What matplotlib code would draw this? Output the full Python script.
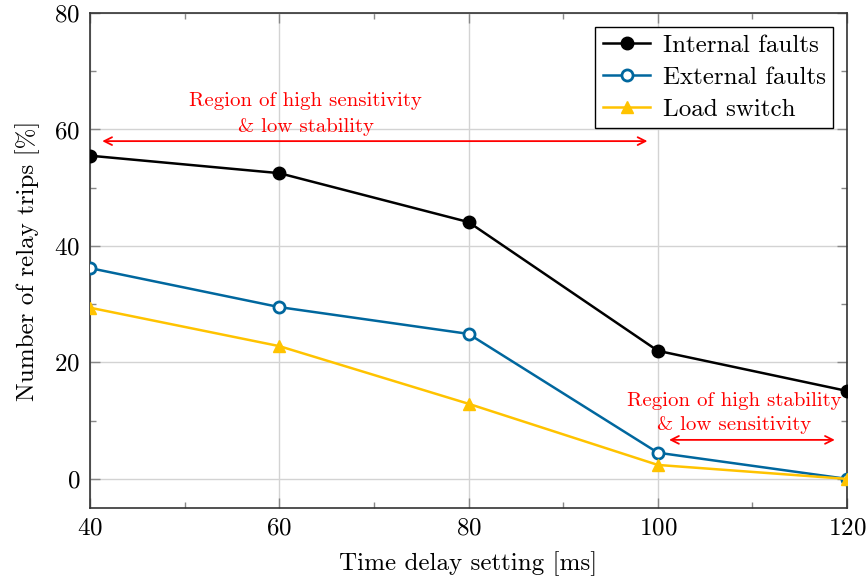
import matplotlib
matplotlib.use('Agg')
import matplotlib.pyplot as plt
from matplotlib.ticker import MultipleLocator

# 字体：Computer Modern 风格
plt.rcParams['font.family'] = ['cmr10', 'DejaVu Serif']
plt.rcParams['mathtext.fontset'] = 'cm'
plt.rcParams['axes.formatter.use_mathtext'] = True

# 数据
delay = [40, 60, 80, 100, 120]
internal = [55.5, 52.5, 44.1, 22.0, 15.1]
external = [36.2, 29.5, 24.9, 4.5, 0.0]
load_switch = [29.4, 22.8, 12.9, 2.4, 0.0]

c_black = 'black'
c_blue = '#00679E'
c_yellow = '#FFC300'

fig = plt.figure(figsize=(8.67, 5.83), dpi=100)
ax = fig.add_axes([0.1038, 0.1286, 0.8732, 0.8491])

ax.plot(delay, internal, color=c_black, lw=1.8, marker='o', ms=9,
        label='Internal faults', zorder=4)
ax.plot(delay, external, color=c_blue, lw=1.8, marker='o', ms=8,
        mfc='white', mec=c_blue, mew=2.0, label='External faults', zorder=3)
ax.plot(delay, load_switch, color=c_yellow, lw=1.8, marker='^', ms=9,
        label='Load switch', zorder=3)

# 区域标注
ax.annotate('', xy=(41, 58), xytext=(99.2, 58),
            arrowprops=dict(arrowstyle='<->', color='red', lw=1.3,
                            mutation_scale=14))
ax.text(62.8, 62.6, 'Region of high sensitivity\n& low stability',
        color='red', fontsize=15, ha='center', va='center', linespacing=1.55)
ax.annotate('', xy=(100.9, 6.7), xytext=(119.0, 6.7),
            arrowprops=dict(arrowstyle='<->', color='red', lw=1.3,
                            mutation_scale=14))
ax.text(108.1, 11.3, 'Region of high stability\n& low sensitivity',
        color='red', fontsize=15, ha='center', va='center', linespacing=1.4)

ax.set_xlim(40, 120)
ax.set_ylim(-5, 80)
ax.xaxis.set_major_locator(MultipleLocator(20))
ax.xaxis.set_minor_locator(MultipleLocator(10))
ax.yaxis.set_major_locator(MultipleLocator(20))
ax.yaxis.set_minor_locator(MultipleLocator(10))
ax.tick_params(which='both', direction='in', top=True, right=True,
               color='#888888', labelsize=18)
ax.tick_params(which='major', length=7, width=1, pad=7)
ax.tick_params(which='minor', length=4, width=1)
ax.grid(True, which='major', color='#D3D3D3', lw=1.0)
ax.set_axisbelow(True)
for s in ax.spines.values():
    s.set_linewidth(1.2)
    s.set_color('#333333')

ax.set_xlabel('Time delay setting [ms]', fontsize=18, labelpad=8)
ax.set_ylabel('Number of relay trips [%]', fontsize=18, labelpad=10)

leg = ax.legend(loc='upper right', fontsize=18, fancybox=False,
                edgecolor='black', framealpha=1, handlelength=1.9,
                borderaxespad=0.55, labelspacing=0.38, borderpad=0.3,
                handletextpad=0.5)
leg.get_frame().set_linewidth(1.0)

fig.savefig('out.png', dpi=100)
